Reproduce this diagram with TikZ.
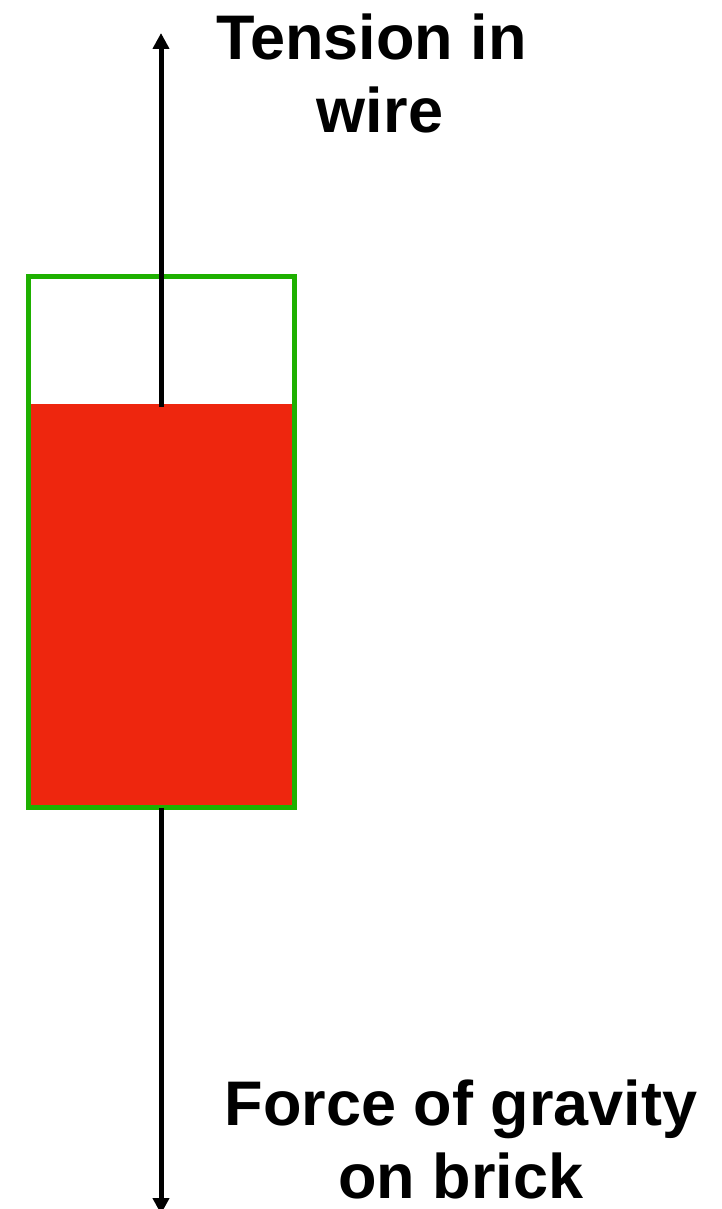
\documentclass[tikz,border=0pt]{standalone}
\usepackage{fontspec}
\setmainfont{Liberation Sans}
\usetikzlibrary{arrows.meta}
\definecolor{brickred}{RGB}{238,38,14}
\definecolor{boxgreen}{RGB}{30,176,0}
\tikzset{
  force/.style={line width=5pt,-{Triangle[length=16pt,width=16pt]}},
  label/.style={font=\fontsize{63pt}{73pt}\selectfont\bfseries,align=center,inner sep=0pt},
}
\begin{document}
\begin{tikzpicture}[x=1pt,y=-1pt]
\useasboundingbox (0,0) rectangle (721,1209);
\fill[brickred] (28,404) rectangle (294,807.5);
\node[draw=boxgreen,line width=5pt,minimum width=266pt,minimum height=531pt,inner sep=0pt,outer sep=0pt,anchor=north west] (brick) at (28,276.5) {};
\coordinate (wire) at (161,407);
\coordinate (toptip) at (161,33);
\coordinate (bottip) at (161,1214);
\draw[force] (wire) -- (toptip);
\draw[force] (brick.south -| wire) -- (bottip);
\node[label,anchor=base] (tension) at (380,133) {Tension in\rule{17pt}{0pt}\\wire};
\node[label,anchor=base] (gravity) at (461,1198) {Force of gravity\\on brick};
\end{tikzpicture}
\end{document}
